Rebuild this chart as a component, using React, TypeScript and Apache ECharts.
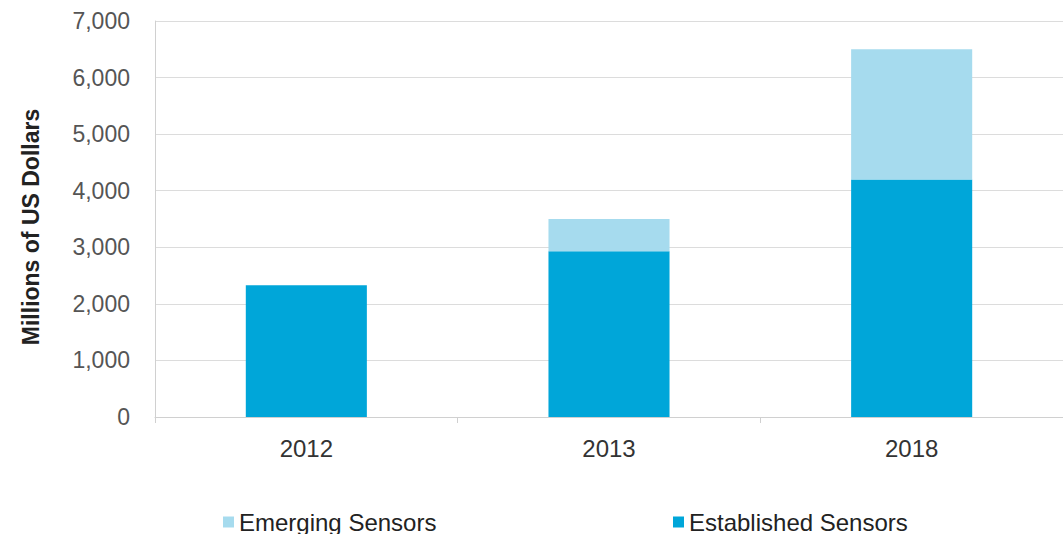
import React, { useEffect, useRef } from "react";
import * as echarts from "echarts";

const categories = ["2012", "2013", "2018"];
const established = [2330, 2930, 4200];
const emerging = [0, 570, 2300];
const yTicks = [0, 1000, 2000, 3000, 4000, 5000, 6000, 7000];

const FONT = "Liberation Sans, Arial, sans-serif";

export default function App() {
  const ref = useRef<HTMLDivElement>(null);
  useEffect(() => {
    document.body.style.margin = "0";
    const chart = echarts.init(ref.current!, null, { renderer: "svg" });
    const legendCommon = {
      top: 505,
      icon: "rect",
      itemWidth: 11,
      itemHeight: 11,
      itemGap: 6,
      textStyle: { fontSize: 24, color: "#222", fontFamily: FONT },
    };
    chart.setOption({
      animation: false,
      backgroundColor: "#ffffff",
      textStyle: { fontFamily: FONT },
      grid: { left: 155, top: 21, width: 913, height: 396, containLabel: false },
      legend: [
        { ...legendCommon, data: ["Emerging Sensors"], left: 218 },
        { ...legendCommon, data: ["Established Sensors"], left: 668 },
      ],
      xAxis: {
        type: "category",
        data: categories,
        axisLine: { show: true, lineStyle: { color: "#d0d0d0" } },
        axisTick: { show: true, length: 6, lineStyle: { color: "#d0d0d0" } },
        axisLabel: { fontSize: 24, color: "#333", margin: 19 },
      },
      yAxis: {
        type: "value",
        min: 0,
        max: 7000,
        interval: 1000,
        name: "Millions of US Dollars",
        nameLocation: "middle",
        nameGap: 113,
        nameTextStyle: { fontSize: 23, fontWeight: "bold", color: "#222", padding: [0, 16, 0, 0] },
        axisLine: { show: true, lineStyle: { color: "#d0d0d0" } },
        axisTick: { show: false },
        splitLine: { lineStyle: { color: "#dcdcdc" } },
        axisLabel: {
          fontSize: 23,
          color: "#555",
          margin: 25,
          formatter: (v: number) => (yTicks.includes(v) ? v.toLocaleString("en-US") : ""),
        },
      },
      series: [
        {
          name: "Established Sensors",
          type: "bar",
          stack: "total",
          data: established,
          barWidth: "40%",
          itemStyle: { color: "#00A6D9" },
        },
        {
          name: "Emerging Sensors",
          type: "bar",
          stack: "total",
          data: emerging,
          barWidth: "40%",
          itemStyle: { color: "#A6DBEE" },
        },
      ],
    });
    return () => chart.dispose();
  }, []);
  return <div ref={ref} style={{ width: 1063, height: 534 }} />;
}
